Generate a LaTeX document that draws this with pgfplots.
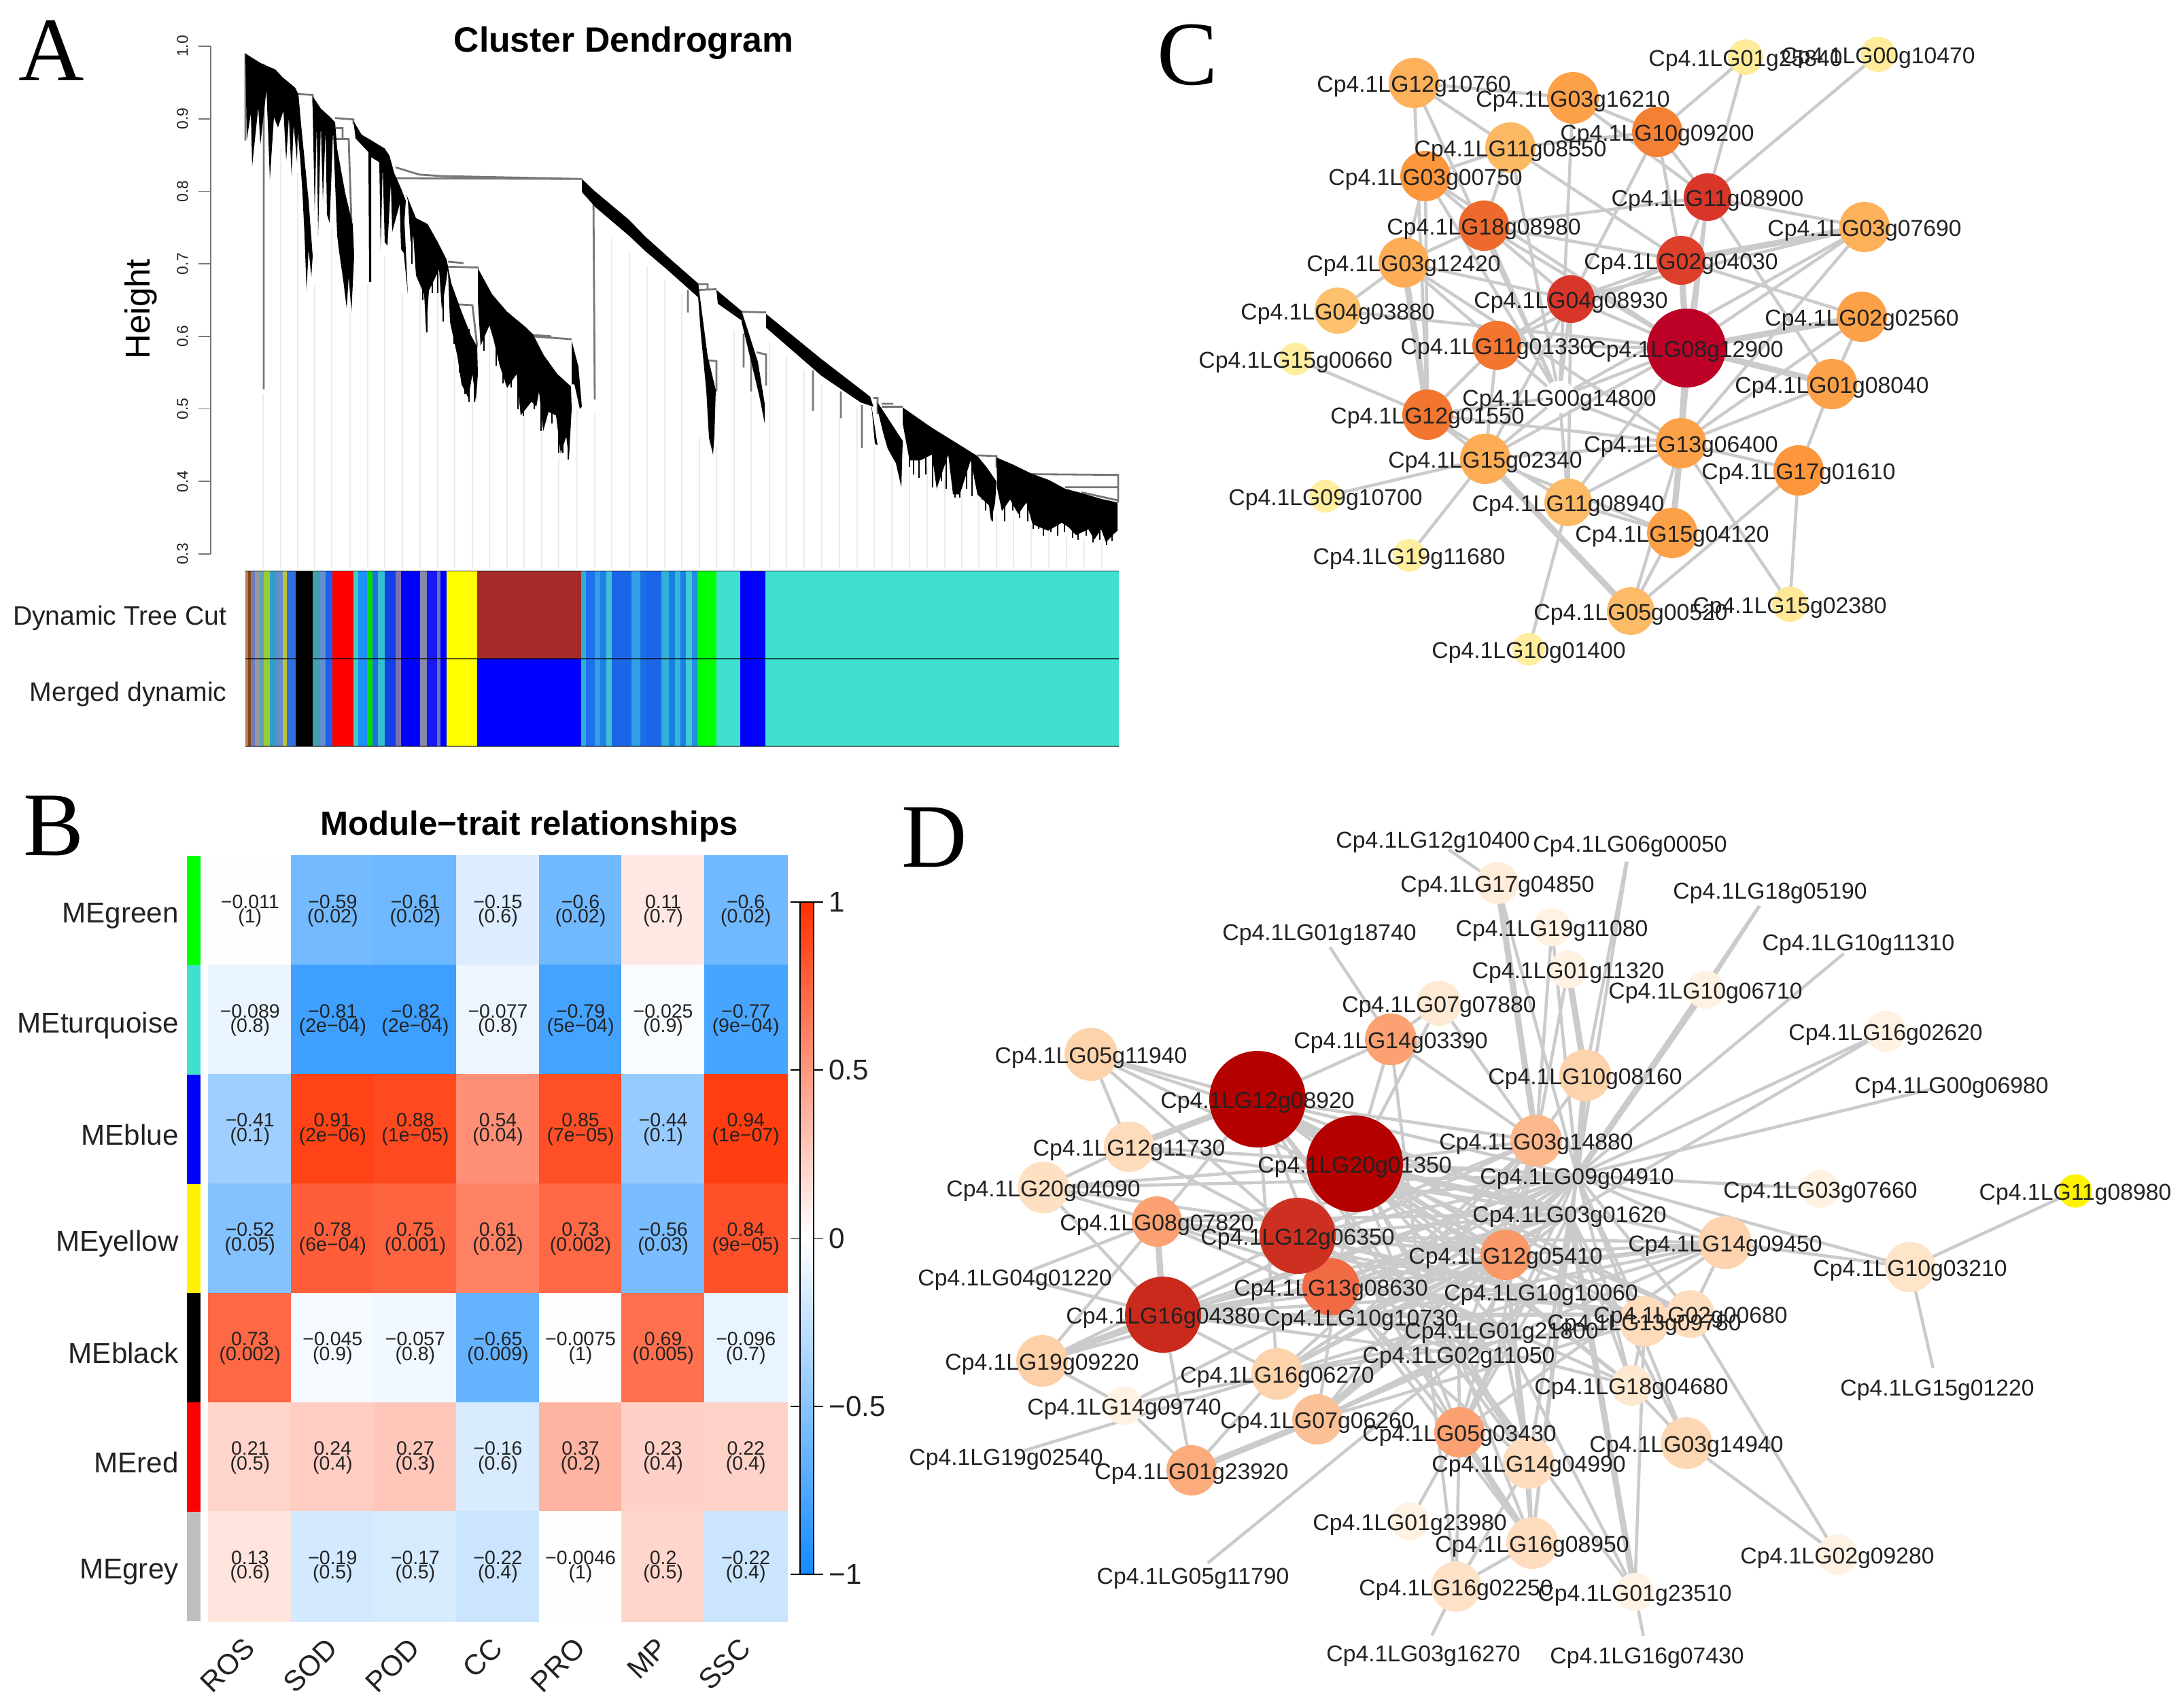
\documentclass[border=0pt]{standalone}
\usepackage{fontspec}
\setmainfont{Liberation Sans}
\newfontfamily\letterfont{Liberation Serif}
\usepackage{pgfplots}
\usepackage{pgfplotstable}
\pgfplotsset{compat=1.18}

\definecolor{edgegray}{HTML}{CBCBCB}
\definecolor{leafgray}{HTML}{EBEBEB}
\definecolor{brackgray}{HTML}{777777}
\definecolor{turq}{HTML}{40E0D0}
\definecolor{labeltext}{HTML}{222222}

% rectangle of the module colour bars, x in pixels of the leaf order
\newcommand{\band}[3]{\addplot[/utils/exec={\definecolor{bandc}{HTML}{#1}},fill=bandc,draw=none] coordinates {(#2,0)(#3,0)(#3,2)(#2,2)} --cycle;}
\newcommand{\strip}[3]{\addplot[fill=#1,draw=none] coordinates {(-0.763,#2)(-0.598,#2)(-0.598,#3)(-0.763,#3)} --cycle;}
\newcommand{\blob}[1]{\addplot[fill=black,draw=none] coordinates {#1} --cycle;}

\pgfplotstableread{
x y v r p
0 0 -0.011 −0.011 (1)
1 0 -0.59 −0.59 (0.02)
2 0 -0.61 −0.61 (0.02)
3 0 -0.15 −0.15 (0.6)
4 0 -0.6 −0.6 (0.02)
5 0 0.11 0.11 (0.7)
6 0 -0.6 −0.6 (0.02)
0 1 -0.089 −0.089 (0.8)
1 1 -0.81 −0.81 (2e−04)
2 1 -0.82 −0.82 (2e−04)
3 1 -0.077 −0.077 (0.8)
4 1 -0.79 −0.79 (5e−04)
5 1 -0.025 −0.025 (0.9)
6 1 -0.77 −0.77 (9e−04)
0 2 -0.41 −0.41 (0.1)
1 2 0.91 0.91 (2e−06)
2 2 0.88 0.88 (1e−05)
3 2 0.54 0.54 (0.04)
4 2 0.85 0.85 (7e−05)
5 2 -0.44 −0.44 (0.1)
6 2 0.94 0.94 (1e−07)
0 3 -0.52 −0.52 (0.05)
1 3 0.78 0.78 (6e−04)
2 3 0.75 0.75 (0.001)
3 3 0.61 0.61 (0.02)
4 3 0.73 0.73 (0.002)
5 3 -0.56 −0.56 (0.03)
6 3 0.84 0.84 (9e−05)
0 4 0.73 0.73 (0.002)
1 4 -0.045 −0.045 (0.9)
2 4 -0.057 −0.057 (0.8)
3 4 -0.65 −0.65 (0.009)
4 4 -0.0075 −0.0075 (1)
5 4 0.69 0.69 (0.005)
6 4 -0.096 −0.096 (0.7)
0 5 0.21 0.21 (0.5)
1 5 0.24 0.24 (0.4)
2 5 0.27 0.27 (0.3)
3 5 -0.16 −0.16 (0.6)
4 5 0.37 0.37 (0.2)
5 5 0.23 0.23 (0.4)
6 5 0.22 0.22 (0.4)
0 6 0.13 0.13 (0.6)
1 6 -0.19 −0.19 (0.5)
2 6 -0.17 −0.17 (0.5)
3 6 -0.22 −0.22 (0.4)
4 6 -0.0046 −0.0046 (1)
5 6 0.2 0.2 (0.5)
6 6 -0.22 −0.22 (0.4)
}\heat

% network C: position, radius (pixels), colour level, gene
\pgfplotstableread{
x y r c label
2294 584 24 0 Cp4.1LG00g14800
2080 122 37 38 Cp4.1LG12g10760
2314 144 38 45 Cp4.1LG03g16210
2568 84 26 5 Cp4.1LG01g25840
2763 80 26 5 Cp4.1LG00g10470
2438 194 37 60 Cp4.1LG10g09200
2097 259 37 50 Cp4.1LG03g00750
2222 217 37 35 Cp4.1LG11g08550
2512 290 35 85 Cp4.1LG11g08900
2183 332 37 70 Cp4.1LG18g08980
2743 334 37 38 Cp4.1LG03g07690
2065 386 37 40 Cp4.1LG03g12420
2473 383 36 82 Cp4.1LG02g04030
2311 440 35 85 Cp4.1LG04g08930
1968 457 34 30 Cp4.1LG04g03880
2739 466 37 45 Cp4.1LG02g02560
2202 508 36 65 Cp4.1LG11g01330
2481 512 58 100 Cp4.1LG08g12900
1906 528 24 3 Cp4.1LG15g00660
2695 565 37 45 Cp4.1LG01g08040
2100 610 37 65 Cp4.1LG12g01550
2473 652 37 45 Cp4.1LG13g06400
2185 675 37 40 Cp4.1LG15g02340
2646 692 37 50 Cp4.1LG17g01610
1950 730 24 3 Cp4.1LG09g10700
2307 739 35 33 Cp4.1LG11g08940
2460 784 37 45 Cp4.1LG15g04120
2073 817 24 3 Cp4.1LG19g11680
2399 899 35 33 Cp4.1LG05g00520
2633 889 26 7 Cp4.1LG15g02380
2249 955 24 3 Cp4.1LG10g01400
}\netC

% network D
\pgfplotstableread{
x y r c label
2108 1234 28 0 Cp4.1LG12g10400
2398 1240 28 0 Cp4.1LG06g00050
2604 1309 28 0 Cp4.1LG18g05190
2734 1385 28 0 Cp4.1LG10g11310
1941 1370 28 0 Cp4.1LG01g18740
2871 1595 28 0 Cp4.1LG00g06980
1493 1878 28 0 Cp4.1LG04g01220
1480 2142 28 0 Cp4.1LG19g02540
1755 2317 28 0 Cp4.1LG05g11790
2094 2431 28 0 Cp4.1LG03g16270
2423 2434 28 0 Cp4.1LG16g07430
2850 2040 28 0 Cp4.1LG15g01220
2320 1729 0 0 Cp4.1LG09g04910
2309 1785 0 0 Cp4.1LG03g01620
2267 1900 0 0 Cp4.1LG10g10060
2209 1956 0 0 Cp4.1LG01g21800
2002 1937 0 0 Cp4.1LG10g10730
2146 1992 0 0 Cp4.1LG02g11050
3053 1752 0 0 Cp4.1LG11g08980
2203 1299 31 8 Cp4.1LG17g04850
2283 1364 28 4 Cp4.1LG19g11080
2307 1426 28 4 Cp4.1LG01g11320
2509 1456 28 4 Cp4.1LG10g06710
2117 1476 33 10 Cp4.1LG07g07880
2046 1529 38 45 Cp4.1LG14g03390
2774 1517 30 4 Cp4.1LG16g02620
1605 1551 39 28 Cp4.1LG05g11940
2332 1582 38 28 Cp4.1LG10g08160
2260 1678 38 38 Cp4.1LG03g14880
1661 1687 37 22 Cp4.1LG12g11730
1535 1747 38 18 Cp4.1LG20g04090
2678 1749 28 4 Cp4.1LG03g07660
1702 1797 37 45 Cp4.1LG08g07820
2538 1828 39 27 Cp4.1LG14g09450
2215 1846 37 48 Cp4.1LG12g05410
2810 1864 37 15 Cp4.1LG10g03210
1958 1893 42 62 Cp4.1LG13g08630
1909 1818 56 85 Cp4.1LG12g06350
1850 1617 71 100 Cp4.1LG12g08920
1993 1712 71 100 Cp4.1LG20g01350
2487 1933 35 20 Cp4.1LG02g00680
2419 1944 37 22 Cp4.1LG13g09780
1711 1934 56 87 Cp4.1LG16g04380
2400 2038 30 12 Cp4.1LG18g04680
1533 2002 38 30 Cp4.1LG19g09220
1879 2021 38 28 Cp4.1LG16g06270
1654 2068 28 4 Cp4.1LG14g09740
1938 2088 37 35 Cp4.1LG07g06260
2147 2107 37 45 Cp4.1LG05g03430
2481 2123 38 25 Cp4.1LG03g14940
2249 2152 38 20 Cp4.1LG14g04990
1753 2163 37 42 Cp4.1LG01g23920
2074 2238 28 4 Cp4.1LG01g23980
2254 2270 38 20 Cp4.1LG16g08950
2703 2287 30 4 Cp4.1LG02g09280
2142 2334 37 16 Cp4.1LG16g02250
2405 2342 28 4 Cp4.1LG01g23510
}\netD

\pgfplotsset{
  network/.style={
    at={(0cm,0cm)},anchor=north west,scale only axis,width=32.13cm,height=24.95cm,
    xmin=0,xmax=3213,ymin=0,ymax=2495,y dir=reverse,hide axis,clip=false,
    point meta min=0,point meta max=100},
  thinedge/.style={color=edgegray,line width=1.3pt,line join=round,no markers},
  thickedge/.style={color=edgegray,line width=2.6pt,no markers,unbounded coords=jump},
  genes/.style={
    scatter,only marks,mark=*,
    scatter/use mapped color={draw opacity=0,fill=mapped color},
    point meta=\thisrow{c},
    visualization depends on={\thisrow{r}*0.2845 \as \noder},
    scatter/@pre marker code/.append style={/tikz/mark size=\noder}},
  genelabels/.style={
    only marks,mark=none,point meta=explicit symbolic,nodes near coords,
    every node near coord/.append style={anchor=center,inner sep=0pt,yshift=-0.05cm,text=labeltext,
      font=\fontsize{9.6}{11}\selectfont}},
}

\begin{document}
\begin{tikzpicture}
\useasboundingbox (0,0) rectangle (32.13cm,-24.95cm);

% A: dendrogram
\begin{axis}[at={(3.10cm,-0.68cm)},anchor=north west,scale only axis,width=13.36cm,height=7.47cm,
  xmin=310,xmax=1646,ymin=0.3,ymax=1,clip=false,
  axis x line=none,axis y line*=left,
  ytick={0.3,0.4,0.5,0.6,0.7,0.8,0.9,1.0},
  yticklabels={0.3,0.4,0.5,0.6,0.7,0.8,0.9,1.0},
  tick align=outside,major tick length=0.18cm,
  every y tick/.style={color=brackgray,line width=0.5pt},
  y axis line style={color=brackgray,line width=0.5pt},
  yticklabel style={rotate=90,anchor=south,font=\fontsize{6.5}{7}\selectfont,color=labeltext,yshift=0.03cm}]
% faint leaf lines
\addplot[color=leafgray,line width=0.7pt,unbounded coords=jump,no markers] coordinates {
(387,.52)(387,.281)(nan,nan)(413,.859)(413,.281)(nan,nan)(438,.825)(438,.281)(nan,nan)(463,.67)(463,.281)(nan,nan)
(488,.75)(488,.281)(nan,nan)(515,.634)(515,.281)(nan,nan)(541,.672)(541,.281)(nan,nan)(566,.71)(566,.281)(nan,nan)
(592,.658)(592,.281)(nan,nan)(618,.672)(618,.281)(nan,nan)(644,.682)(644,.281)(nan,nan)(669,.572)(669,.281)(nan,nan)
(695,.51)(695,.281)(nan,nan)(720,.61)(720,.281)(nan,nan)(746,.529)(746,.281)(nan,nan)(771,.49)(771,.281)(nan,nan)
(797,.467)(797,.281)(nan,nan)(822,.433)(822,.281)(nan,nan)(849,.5)(849,.281)(nan,nan)(875,.493)(875,.281)(nan,nan)
(900,.735)(900,.281)(nan,nan)(926,.715)(926,.281)(nan,nan)(952,.696)(952,.281)(nan,nan)(978,.677)(978,.281)(nan,nan)
(1003,.658)(1003,.281)(nan,nan)(1029,.46)(1029,.281)(nan,nan)(1054,.448)(1054,.281)(nan,nan)(1080,.608)(1080,.281)(nan,nan)
(1105,.522)(1105,.281)(nan,nan)(1132,.592)(1132,.281)(nan,nan)(1157,.573)(1157,.281)(nan,nan)(1183,.553)(1183,.281)(nan,nan)
(1209,.534)(1209,.281)(nan,nan)(1235,.487)(1235,.281)(nan,nan)(1261,.503)(1261,.281)(nan,nan)(1286,.448)(1286,.281)(nan,nan)
(1312,.425)(1312,.281)(nan,nan)(1338,.429)(1338,.281)(nan,nan)(1364,.421)(1364,.281)(nan,nan)(1390,.402)(1390,.281)(nan,nan)
(1415,.378)(1415,.281)(nan,nan)(1440,.374)(1440,.281)(nan,nan)(1466,.355)(1466,.281)(nan,nan)(1491,.355)(1491,.281)(nan,nan)
(1517,.34)(1517,.281)(nan,nan)(1543,.332)(1543,.281)(nan,nan)(1569,.324)(1569,.281)(nan,nan)(1595,.32)(1595,.281)(nan,nan)
(1621,.316)(1621,.281)(nan,nan)};
% merges and single drooping leaves
\addplot[color=brackgray,line width=0.8pt,unbounded coords=jump,no markers] coordinates {
(388,.976)(388,.527)(nan,nan)(361,.99)(361,.87)(nan,nan)
(439,.934)(460,.933)(461,.916)(nan,nan)(493,.901)(520,.899)(520,.892)(nan,nan)
(494,.887)(504,.887)(504,.873)(nan,nan)(495,.872)(513,.872)(517,.758)(nan,nan)
(582,.833)(617,.823)(650,.821)(856,.817)(nan,nan)(582,.818)(856,.817)(nan,nan)
(659,.696)(704,.695)(nan,nan)(659,.703)(682,.701)(nan,nan)(675,.644)(695,.643)(702,.586)(nan,nan)
(784,.6)(841,.596)(nan,nan)(784,.602)(811,.6)(nan,nan)
(873,.795)(875,.513)(nan,nan)
(1027,.664)(1054,.665)(nan,nan)(1027,.672)(1041,.672)(1041,.664)(nan,nan)
(1041,.567)(1054,.566)(1054,.524)(nan,nan)(1091,.634)(1127,.633)(nan,nan)
(1113,.578)(1127,.575)(1127,.532)(nan,nan)(1094,.604)(1094,.557)(nan,nan)(1105,.577)(1105,.524)(nan,nan)
(1012,.664)(1012,.633)(nan,nan)(1196,.553)(1196,.497)(nan,nan)(1237,.524)(1237,.487)(nan,nan)(1268,.505)(1268,.446)(nan,nan)
(1285,.515)(1291,.515)(1291,.493)(nan,nan)(1297,.507)(1314,.507)(nan,nan)(1297,.503)(1328,.503)(nan,nan)
(1438,.436)(1466,.435)(1466,.419)(nan,nan)(1517,.41)(1645,.409)(1645,.371)(nan,nan)
(1567,.392)(1644,.392)(nan,nan)(1591,.385)(1644,.374)(nan,nan)};
% clusters
\blob{(361,.990)(371,.984)(385,.976)(405,.968)(416,.957)(434,.943)(439,.934)(443,.892)(454,.787)(460,.711)(458,.682)(454,.720)(451,.663)(448,.739)(445,.797)(442,.840)(438,.883)(437,.840)(432,.892)(429,.821)(425,.902)(421,.842)(417,.911)(409,.888)(403,.902)(397,.816)(395,.868)(392,.940)(383,.864)(380,.916)(371,.835)(369,.907)(363,.871)}
\blob{(460,.931)(472,.914)(485,.903)(493,.895)(496,.859)(508,.797)(519,.754)(521,.711)(517,.634)(513,.682)(510,.639)(505,.677)(499,.716)(496,.739)(493,.811)(490,.883)(485,.756)(481,.768)(479,.883)(475,.787)(472,.892)(468,.739)(466,.892)(463,.773)(460,.911)}
\blob{(520,.897)(532,.878)(545,.871)(566,.859)(573,.849)(580,.825)(590,.804)(597,.787)(595,.759)(600,.658)(594,.715)(590,.720)(588,.782)(577,.744)(575,.811)(570,.725)(566,.730)(563,.835)(560,.720)(558,.840)(546,.847)(546,.675)(543,.675)(542,.854)(523,.873)}
\blob{(598,.795)(612,.763)(629,.755)(644,.730)(657,.706)(664,.673)(679,.634)(693,.601)(702,.586)(703,.548)(700,.510)(695,.548)(689,.515)(679,.534)(673,.572)(662,.620)(659,.692)(650,.637)(646,.692)(631,.663)(627,.605)(624,.658)(612,.684)(608,.739)(604,.730)(600,.787)}
\blob{(703,.694)(724,.658)(746,.634)(773,.613)(784,.603)(800,.574)(820,.548)(840,.531)(841,.500)(837,.431)(833,.462)(825,.438)(818,.491)(807,.496)(799,.469)(793,.524)(789,.503)(782,.510)(766,.491)(760,.548)(746,.529)(735,.560)(726,.596)(720,.615)(707,.587)(703,.649)}
\blob{(841,.594)(851,.558)(856,.503)(853,.500)(845,.534)(841,.534)}
\blob{(856,.817)(874,.801)(925,.761)(950,.737)(988,.705)(1027,.673)(1027,.654)(979,.694)(950,.717)(925,.739)(876,.778)(856,.799)}
\blob{(1027,.674)(1041,.573)(1053,.526)(1051,.464)(1049,.437)(1043,.460)(1039,.526)(1031,.604)(1027,.655)}
\blob{(1054,.664)(1091,.635)(1094,.620)(1056,.645)}
\blob{(1091,.635)(1115,.565)(1125,.507)(1125,.480)(1117,.518)(1103,.573)(1091,.620)}
\blob{(1127,.631)(1208,.569)(1280,.517)(1285,.503)(1266,.509)(1208,.546)(1127,.612)}
\blob{(1280,.517)(1291,.450)(1287,.452)(1283,.495)}
\blob{(1291,.509)(1328,.456)(1326,.392)(1318,.425)(1306,.445)(1299,.468)(1291,.499)}
\blob{(1328,.502)(1371,.474)(1409,.452)(1438,.435)(1452,.419)(1466,.400)(1464,.371)(1458,.345)(1455,.367)(1438,.382)(1428,.429)(1412,.382)(1402,.382)(1395,.437)(1378,.390)(1371,.437)(1354,.429)(1338,.429)(1328,.480)}
\blob{(1466,.433)(1491,.423)(1517,.411)(1543,.402)(1567,.390)(1591,.384)(1620,.376)(1644,.371)(1644,.332)(1639,.328)(1627,.316)(1620,.334)(1610,.320)(1601,.334)(1583,.326)(1572,.337)(1562,.343)(1542,.332)(1529,.337)(1519,.341)(1510,.371)(1498,.355)(1486,.375)(1474,.359)(1467,.390)}
% hanging leaves under the clusters
\addplot[color=black,line width=0.6pt,unbounded coords=jump,no markers] coordinates {
(606,.76)(606,.70)(nan,nan)(616,.74)(616,.68)(nan,nan)(622,.74)(622,.65)(nan,nan)(628,.74)(628,.605)(nan,nan)(636,.72)(636,.66)(nan,nan)(644,.71)(644,.66)(nan,nan)
(652,.70)(652,.62)(nan,nan)(668,.65)(668,.59)(nan,nan)(676,.63)(676,.55)(nan,nan)(684,.62)(684,.52)(nan,nan)(690,.61)(690,.51)(nan,nan)(698,.59)(698,.51)(nan,nan)
(712,.66)(712,.58)(nan,nan)(730,.64)(730,.56)(nan,nan)(740,.63)(740,.535)(nan,nan)(752,.62)(752,.53)(nan,nan)(762,.60)(762,.50)(nan,nan)(770,.60)(770,.49)(nan,nan)
(778,.59)(778,.51)(nan,nan)(786,.59)(786,.50)(nan,nan)(796,.57)(796,.47)(nan,nan)(804,.56)(804,.49)(nan,nan)(812,.55)(812,.48)(nan,nan)(822,.54)(822,.44)(nan,nan)
(828,.53)(828,.44)(nan,nan)(836,.53)(836,.43)(nan,nan)
(1338,.49)(1338,.42)(nan,nan)(1344,.49)(1344,.41)(nan,nan)(1352,.48)(1352,.405)(nan,nan)(1362,.47)(1362,.41)(nan,nan)(1372,.47)(1372,.392)(nan,nan)(1385,.46)(1385,.40)(nan,nan)
(1392,.45)(1392,.39)(nan,nan)(1405,.44)(1405,.378)(nan,nan)(1412,.44)(1412,.378)(nan,nan)(1422,.43)(1422,.39)(nan,nan)(1430,.43)(1430,.38)(nan,nan)(1445,.42)(1445,.375)(nan,nan)
(1450,.41)(1450,.36)(nan,nan)(1460,.40)(1460,.345)(nan,nan)
(1478,.42)(1478,.345)(nan,nan)(1490,.42)(1490,.36)(nan,nan)(1500,.41)(1500,.35)(nan,nan)(1512,.40)(1512,.345)(nan,nan)(1520,.40)(1520,.335)(nan,nan)(1528,.40)(1528,.335)(nan,nan)
(1535,.39)(1535,.325)(nan,nan)(1546,.38)(1546,.33)(nan,nan)(1556,.38)(1556,.325)(nan,nan)(1566,.38)(1566,.33)(nan,nan)(1578,.37)(1578,.322)(nan,nan)(1586,.37)(1586,.32)(nan,nan)
(1598,.37)(1598,.325)(nan,nan)(1608,.37)(1608,.316)(nan,nan)(1618,.37)(1618,.32)(nan,nan)(1628,.365)(1628,.312)(nan,nan)(1636,.365)(1636,.318)(nan,nan)};
\end{axis}

% A: module colour bars
\begin{axis}[at={(3.61cm,-8.40cm)},anchor=north west,scale only axis,width=12.85cm,height=2.58cm,
  xmin=361,xmax=1646,ymin=0,ymax=2,hide axis,clip=false]
\band{B08060}{361}{365}\band{8B4513}{365}{369}\band{6A7FC0}{369}{375}\band{999999}{375}{382}
\band{5FA0C0}{382}{388}\band{9ACD32}{388}{397}\band{2FA0C8}{397}{406}\band{6090C8}{406}{416}
\band{C0C040}{416}{422}\band{3070E0}{422}{435}\band{000000}{435}{460}\band{40A0B0}{460}{471}
\band{6090D0}{471}{479}\band{2060E8}{479}{489}\band{FF0000}{489}{520}\band{40D0C0}{520}{527}
\band{1E90FF}{527}{540}\band{00E000}{540}{548}\band{2070E0}{548}{556}\band{30C0D0}{556}{566}
\band{1040E8}{566}{582}\band{8070B0}{582}{590}\band{0000FF}{590}{618}\band{8888AA}{618}{628}
\band{1818F0}{628}{643}\band{7070C0}{643}{648}\band{0000FF}{648}{657}\band{FFFF00}{657}{702}
\band{0000FF}{702}{855}\band{30B0D0}{855}{862}\band{1E70F0}{862}{875}\band{30A0E0}{875}{883}
\band{2080E8}{883}{892}\band{40C0D8}{892}{900}\band{1A66E8}{900}{929}\band{30A0E8}{929}{942}
\band{1A70E0}{942}{950}\band{1A66E8}{950}{973}\band{30B0D8}{973}{984}\band{1A80E0}{984}{993}
\band{35B5D8}{993}{1001}\band{1A80E8}{1001}{1009}\band{40C8D8}{1009}{1018}\band{2090E0}{1018}{1026}
\band{00FF00}{1026}{1054}\band{40E0D0}{1054}{1089}\band{0000FF}{1089}{1126}\band{40E0D0}{1126}{1646}
\addplot[fill={rgb,255:red,165;green,42;blue,42},draw=none] coordinates {(702,1)(855,1)(855,2)(702,2)} --cycle;
\addplot[color=black,opacity=0.65,line width=0.8pt,no markers] coordinates {(361,1)(1646,1)};
\addplot[color=black,opacity=0.55,line width=0.7pt,no markers] coordinates {(361,0)(1646,0)};
\addplot[color=black,opacity=0.25,line width=0.5pt,no markers] coordinates {(361,2)(1646,2)};
\end{axis}

% B: module-trait heatmap
\begin{axis}[at={(3.07cm,-12.59cm)},anchor=north west,scale only axis,width=8.51cm,height=11.26cm,
  xmin=-0.5,xmax=6.5,ymin=-0.5,ymax=6.5,y dir=reverse,clip=false,
  colormap={bwr}{rgb255(0cm)=(18,138,255) rgb255(1cm)=(255,255,255) rgb255(2cm)=(255,48,0)},
  point meta min=-1,point meta max=1,
  axis line style={color=black!65,line width=0.7pt},
  xtick={0,1,2,3,4,5,6},xticklabels={ROS,SOD,POD,CC,PRO,MP,SSC},
  ytick={0,1,2,3,4,5,6},yticklabels={MEgreen,MEturquoise,MEblue,MEyellow,MEblack,MEred,MEgrey},
  major tick length=0pt,
  xticklabel style={rotate=45,anchor=north east,font=\fontsize{12}{14}\selectfont,color=labeltext,xshift=-0.11cm,yshift=0.05cm},
  yticklabel style={anchor=east,font=\fontsize{12}{14}\selectfont,color=labeltext,xshift=-0.32cm,yshift=-0.08cm},
  colorbar,
  colorbar/width=0.20cm,
  colorbar shift/.style={xshift=0.19cm,yshift=-0.68cm},
  colorbar style={at={(parent axis.north east)},anchor=north west,
    scale only axis,width=0.20cm,height=9.89cm,
    ytick={-1,-0.5,0,0.5,1},yticklabels={−1,−0.5,0,0.5,1},
    major tick length=0.14cm,tick align=outside,
    yticklabel style={font=\fontsize{12}{14}\selectfont,color=labeltext,xshift=-0.04cm},
    axis line style={color=black,line width=0.5pt},
    every y tick/.style={color=black,line width=0.5pt}}]
\addplot[matrix plot*,point meta=explicit,mesh/cols=7] table[x=x,y=y,meta=v] {\heat};
\addplot[only marks,mark=none,point meta=explicit symbolic,nodes near coords,
  every node near coord/.append style={anchor=center,inner sep=0pt,yshift=0.13cm,text=labeltext,font=\fontsize{8.1}{9}\selectfont}]
  table[x=x,y=y,meta=r] {\heat};
\addplot[only marks,mark=none,point meta=explicit symbolic,nodes near coords,
  every node near coord/.append style={anchor=center,inner sep=0pt,yshift=-0.11cm,text=labeltext,font=\fontsize{8.1}{9}\selectfont}]
  table[x=x,y=y,meta=p] {\heat};
\strip{green}{-0.5}{0.5}\strip{turq}{0.5}{1.5}\strip{blue}{1.5}{2.5}\strip{yellow}{2.5}{3.5}
\strip{black}{3.5}{4.5}\strip{red}{4.5}{5.5}\strip{black!25}{5.5}{6.5}
\end{axis}

% C: network
\begin{axis}[network,
  colormap={ylorC}{rgb255(0cm)=(255,255,255) rgb255(2cm)=(255,240,160) rgb255(35cm)=(253,184,99) rgb255(50cm)=(253,150,60) rgb255(70cm)=(238,106,44) rgb255(85cm)=(217,54,42) rgb255(100cm)=(189,0,38)}]
\addplot[thinedge] coordinates {
(2763,80)(2512,290)(2568,84)(2438,194)(2314,144)(2080,122)(2222,217)(2438,194)(2512,290)(2743,334)(2473,383)(2739,466)
(2481,512)(2695,565)(2646,692)(2473,652)(2481,512)(2460,784)(2473,652)(2294,584)(2481,512)(2311,440)(2473,383)(2512,290)
(2481,512)(2743,334)(2311,440)(2183,332)(2473,383)(2222,217)(2294,584)(2314,144)(2512,290)(2183,332)(2097,259)(2222,217)
(2183,332)(2065,386)(2097,259)(2100,610)(2065,386)(1968,457)(2481,512)(2202,508)(2473,383)(2438,194)(2311,440)(2065,386)
(2100,610)(2202,508)(2311,440)(2294,584)(2183,332)(2481,512)(2097,259)(2294,584)(2065,386)(2473,652)(2512,290)(2695,565)
(2739,466)(2473,652)(2743,334)(2294,584)(2080,122)(2100,610)(1906,528)(2100,610)(2294,584)(2185,675)(1950,730)(2185,675)
(2073,817)(2185,675)(2399,899)(2460,784)(2307,739)(2249,955)(2307,739)(2294,584)(2100,610)(2185,675)(2481,512)(2307,739)
(2473,652)(2399,899)(2646,692)(2633,889)(2473,652)(2695,565)(2646,692)(2473,652)(2185,675)(2202,508)(2185,675)(2311,440)
(2307,739)(2100,610)(2473,652)(2460,784)(2185,675)};
\addplot[thickedge] coordinates {
(2100,610)(2065,386)(nan,nan)(2473,383)(2481,512)(2473,652)(2460,784)(nan,nan)(2743,334)(2473,383)(nan,nan)
(2739,466)(2481,512)(2695,565)(nan,nan)(2185,675)(2399,899)(nan,nan)};
\addplot[genes] table {\netC};
\addplot[genelabels] table[x=x,y=y,meta=label] {\netC};
\end{axis}

% D: network
\begin{axis}[network,
  colormap={orD}{rgb255(0cm)=(255,255,255) rgb255(2cm)=(255,245,230) rgb255(30cm)=(253,208,168) rgb255(50cm)=(251,146,96) rgb255(70cm)=(232,80,47) rgb255(85cm)=(205,48,32) rgb255(100cm)=(181,0,0)}]
\addplot[thinedge] coordinates {
(2108,1234)(2203,1299)(2320,1729)(2283,1364)(2260,1678)(2307,1426)(2332,1582)(2398,1240)(2320,1729)(2604,1309)(2509,1456)(2320,1729)
(2734,1385)(2320,1729)(2774,1517)(2309,1785)(2774,1517)(2320,1729)(2871,1595)(2320,1729)(2678,1749)(2320,1729)(2810,1864)(3053,1752)
(2810,1864)(2850,2040)(2810,1864)(2538,1828)(2320,1729)(2332,1582)(2260,1678)(2046,1529)(1941,1370)(2046,1529)(1850,1617)(1605,1551)
(1661,1687)(1850,1617)(1605,1551)(1909,1818)(1661,1687)(1535,1747)(1702,1797)(1850,1617)(2046,1529)(1993,1712)(2260,1678)(1850,1617)
(2320,1729)(1993,1712)(2309,1785)(1850,1617)(2215,1846)(1993,1712)(2209,1956)(1909,1818)(2320,1729)(1711,1934)(2309,1785)(1909,1818)
(2215,1846)(1711,1934)(2267,1900)(1850,1617)(2146,1992)(1711,1934)(2209,1956)(1993,1712)(2146,1992)(1909,1818)(2267,1900)(1702,1797)
(1711,1934)(1493,1878)(1702,1797)(1533,2002)(1711,1934)(1535,1747)(1993,1712)(1535,1747)(2320,1729)(1661,1687)(2309,1785)(1702,1797)
(1909,1818)(1533,2002)(1654,2068)(1753,2163)(1711,1934)(1879,2021)(1480,2142)(1879,2021)(1753,2163)(1938,2088)(2320,1729)(1879,2021)
(2309,1785)(1938,2088)(2215,1846)(1879,2021)(2209,1956)(1938,2088)(2146,1992)(2267,1900)(1755,2317)(2267,1900)(2147,2107)(2320,1729)
(2147,2107)(2309,1785)(2249,2152)(2320,1729)(2254,2270)(2147,2107)(2074,2238)(2147,2107)(2142,2334)(2254,2270)(2249,2152)(2142,2334)
(2147,2107)(2146,1992)(2249,2152)(2215,1846)(2254,2270)(2309,1785)(2405,2342)(2423,2434)(2405,2342)(2419,1944)(2320,1729)(2400,2038)
(2309,1785)(2481,2123)(2400,2038)(2419,1944)(2215,1846)(2487,1933)(2703,2287)(2481,2123)(2320,1729)(2487,1933)(2538,1828)(2215,1846)
(2002,1937)(2320,1729)(1958,1893)(2309,1785)(2002,1937)(1711,1934)(1958,1893)(1850,1617)(2419,1944)(1909,1818)(2400,2038)(1850,1617)
(2487,1933)(1993,1712)(2538,1828)(1711,1934)(2487,1933)(2002,1937)(2400,2038)(1993,1712)(2117,1476)(2260,1678)(2117,1476)(2046,1529)
(2142,2334)(2094,2431)};
\addplot[thinedge] coordinates {
(1702,1797)(2320,1729)(1879,2021)(2260,1678)(1938,2088)(2309,1785)(1958,1893)(2320,1729)(2002,1937)(2260,1678)(1711,1934)(2215,1846)
(1850,1617)(1879,2021)(2215,1846)(1702,1797)(2209,1956)(2260,1678)(1909,1818)(2146,1992)(2320,1729)(1938,2088)(2538,1828)(1879,2021)
(2487,1933)(1958,1893)(2538,1828)(1909,1818)(2267,1900)(1993,1712)(1938,2088)(2419,1944)(1702,1797)(2146,1992)(2260,1678)(2147,2107)
(1850,1617)(2249,2152)(1993,1712)(2147,2107)(1909,1818)(2254,2270)(2146,1992)(2405,2342)(2209,1956)(2249,2152)(2002,1937)(2538,1828)
(2147,2107)(2215,1846)(1535,1747)(2215,1846)(1605,1551)(2309,1785)(1533,2002)(2320,1729)(1654,2068)(1879,2021)};
\addplot[thickedge] coordinates {
(1753,2163)(1938,2088)(2320,1729)(nan,nan)(2509,1456)(2320,1729)(nan,nan)(2405,2342)(2309,1785)(nan,nan)
(1711,1934)(1533,2002)(nan,nan)(1850,1617)(1661,1687)(nan,nan)(1702,1797)(1711,1934)(nan,nan)
(2307,1426)(2332,1582)(2320,1729)(nan,nan)(2203,1299)(2260,1678)(nan,nan)(2254,2270)(2147,2107)(nan,nan)
(1711,1934)(2209,1956)(nan,nan)(1993,1712)(2309,1785)(nan,nan)};
\addplot[genes] table {\netD};
\addplot[only marks,mark=*,mark size=6.8pt,color=yellow] coordinates {(3053,1752)};
\addplot[genelabels] table[x=x,y=y,meta=label] {\netD};
\end{axis}

% titles, labels and panel letters
\begin{scope}[x=0.01cm,y=-0.01cm]
\node[font=\bfseries\fontsize{14.7}{16}\selectfont] at (918,63) {Cluster Dendrogram};
\node[font=\fontsize{14.5}{16}\selectfont,rotate=90] at (207,455) {Height};
\node[anchor=east,font=\fontsize{11.15}{14}\selectfont,text=labeltext] at (346,910) {Dynamic Tree Cut};
\node[anchor=east,font=\fontsize{11.15}{14}\selectfont,text=labeltext] at (346,1022) {Merged dynamic};
\node[font=\bfseries\fontsize{14}{16}\selectfont] at (779,1216) {Module−trait relationships};
\node[font=\letterfont\fontsize{38}{40}\selectfont] at (76,74) {A};
\node[font=\letterfont\fontsize{38}{40}\selectfont] at (79,1216) {B};
\node[font=\letterfont\fontsize{38}{40}\selectfont] at (1748,81) {C};
\node[font=\letterfont\fontsize{38}{40}\selectfont] at (1376,1233) {D};
\end{scope}
\end{tikzpicture}
\end{document}
